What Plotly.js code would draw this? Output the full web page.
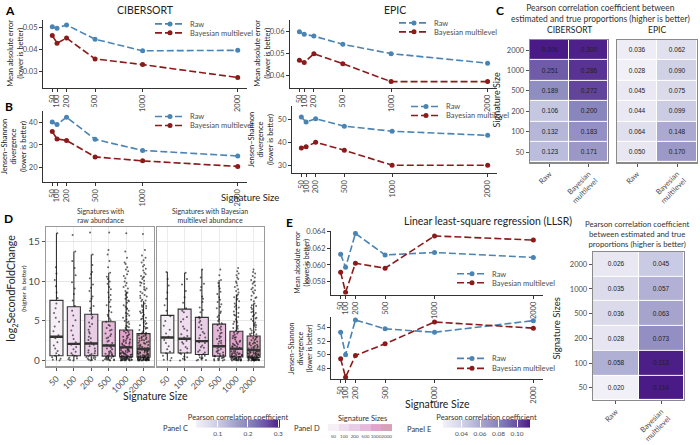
<!DOCTYPE html>
<html><head><meta charset="utf-8">
<script src="https://cdn.plot.ly/plotly-3.0.1.min.js"></script>
<style>html,body{margin:0;padding:0;background:#fff}#chart{width:700px;height:445px}</style>
</head><body><div id="chart"></div>
<script>
// ---------- data ----------
const sizes = [50,100,200,500,1000,2000];
const sizeLabels = ['50','100','200','500','1000','2000'];
const methods = ['Raw','Bayesian multilevel'];
const methodLabels = ['Raw','Bayesian<br>multilevel'];

// Panel A / B (CIBERSORT, EPIC)
const cibMaeRaw   = [0.0505,0.0498,0.0513,0.0448,0.0395,0.0397];
const cibMaeBayes = [0.0465,0.0430,0.0453,0.0358,0.0332,0.0273];
const epicMaeRaw  = [0.0597,0.0585,0.0577,0.0540,0.0498,0.0455];
const epicMaeBayes= [0.0468,0.0458,0.0498,0.0453,0.0372,0.0372];
const cibJsRaw    = [40.3,39.2,42.5,32.5,27.5,25.0];
const cibJsBayes  = [36.0,32.7,32.0,24.6,22.8,20.3];
const epicJsRaw   = [51.0,48.8,50.2,47.0,44.8,43.0];
const epicJsBayes = [37.5,38.0,40.0,36.5,30.0,30.0];

// Panel C (Pearson r, rows = signature sizes 50..2000)
const cibCorRaw    = [0.123,0.132,0.106,0.189,0.251,0.306];
const cibCorBayes  = [0.171,0.183,0.200,0.272,0.286,0.300];
const epicCorRaw   = [0.050,0.064,0.044,0.045,0.028,0.036];
const epicCorBayes = [0.170,0.148,0.099,0.075,0.090,0.062];

// Panel E (LLSR)
const llsrMaeRaw   = [0.0613,0.0597,0.0638,0.0612,0.0615,0.0609];
const llsrMaeBayes = [0.0591,0.0567,0.0602,0.0596,0.0635,0.0630];
const llsrJsRaw    = [53.3,50.0,55.1,53.8,53.3,55.0];
const llsrJsBayes  = [49.4,46.7,49.9,51.6,54.8,53.9];
const llsrCorRaw   = [0.020,0.058,0.028,0.036,0.035,0.026];
const llsrCorBayes = [0.114,0.113,0.073,0.063,0.057,0.045];

// Panel D box statistics
const rawLower = [0,0,0,0,0,0];
const rawQ1    = [0.6,0.6,0.6,0.55,0.45,0.4];
const rawMed   = [3.0,2.1,2.15,1.9,1.65,1.45];
const rawQ3    = [7.6,6.8,5.85,4.9,3.85,3.4];
const rawUpper = [16.1,13.8,13.4,11.1,8.7,7.5];
const bayLower = [0,0,0,0,0,0];
const bayQ1    = [0.95,0.95,0.75,0.55,0.45,0.4];
const bayMed   = [2.9,2.75,2.45,1.8,1.5,1.3];
const bayQ3    = [5.7,6.5,5.45,4.6,3.7,3.1];
const bayUpper = [11.2,11.1,11.5,10.2,8.35,7.2];

// Panel D individual gene points
const raw50   = [0,0.1,0.2,0.4,0.6,0.7,0.9,1.2,1.5,1.9,2.3,2.8,3.2,3.7,4.3,4.9,5.4,6.0,6.6,7.2,7.9,8.6,9.4,10.2,11.0,11.8,16.1];
const raw100  = [0,0.05,0.15,0.25,0.35,0.5,0.6,0.7,0.9,1.1,1.4,1.7,2.0,2.3,2.7,3.2,3.8,4.4,5.1,5.7,6.3,6.9,7.6,8.4,9.1,9.9,10.8,11.7,12.6,13.8,15.9];
const raw200  = [0,0.05,0.1,0.2,0.3,0.4,0.5,0.6,0.7,0.9,1.0,1.2,1.5,1.8,2.1,2.3,2.6,3.0,3.4,3.9,4.3,4.8,5.3,5.8,6.3,6.9,7.5,8.1,8.8,9.6,10.4,11.2,12.1,13.4,16.2,
                 0.15,0.45,0.8,1.3,2.0,2.8,3.6,4.6,5.5,6.6,7.8,9.2,10.9];
const raw500  = [0,0,0.05,0.1,0.15,0.2,0.3,0.35,0.4,0.5,0.6,0.7,0.8,0.9,1.0,1.2,1.4,1.6,1.8,2.0,2.2,2.5,2.8,3.1,3.4,3.8,4.1,4.5,4.9,5.3,5.8,6.3,6.8,7.4,8.0,8.6,9.3,10.0,10.6,11.1,11.8,12.6,13.4,14.0,16.2,
                 0.02,0.12,0.25,0.45,0.65,0.85,1.1,1.5,1.9,2.4,2.9,3.3,3.9,4.4,5.1,5.6,6.1,7.0,7.7,8.3,9.0,9.7,10.3];
const raw1000 = [0,0,0,0.05,0.05,0.1,0.1,0.15,0.2,0.25,0.3,0.35,0.4,0.45,0.5,0.6,0.7,0.8,0.9,1.0,1.1,1.2,1.35,1.5,1.65,1.8,2.0,2.2,2.4,2.6,2.9,3.2,3.5,3.8,4.1,4.4,4.8,5.2,5.6,6.0,6.5,7.0,7.5,8.0,8.6,9.1,9.5,10.0,10.4,10.9,11.3,11.8,12.4,13.0,13.8,16.1,
                 0.02,0.08,0.12,0.18,0.22,0.28,0.33,0.38,0.42,0.48,0.55,0.65,0.75,0.85,0.95,1.05,1.15,1.25,1.4,1.55,1.7,1.9,2.1,2.3,2.5,2.75,3.0,3.3,3.6,3.9,4.3,4.6,5.0,5.4,5.9,6.3,6.8,7.3,7.8,8.3,8.8,9.8,10.7,11.5,12.2,
                 0.03,0.07,0.16,0.26,0.36,0.52,0.72,0.92,1.3,1.75,2.15,2.65,3.1,3.7,4.2,4.9,5.7,6.6,7.6,8.5,9.3];
const raw2000 = [0,0,0,0,0.05,0.05,0.1,0.1,0.15,0.2,0.2,0.25,0.3,0.35,0.4,0.45,0.5,0.55,0.6,0.7,0.8,0.9,1.0,1.1,1.2,1.3,1.4,1.5,1.6,1.8,2.0,2.2,2.4,2.6,2.8,3.0,3.2,3.4,3.7,4.0,4.3,4.6,5.0,5.4,5.8,6.2,6.6,7.0,7.5,7.9,8.3,8.7,9.1,9.5,9.9,10.3,10.7,11.1,11.6,12.1,12.7,13.3,14.0,16.0,
                 0.02,0.03,0.07,0.08,0.12,0.13,0.17,0.22,0.27,0.32,0.37,0.42,0.47,0.52,0.58,0.65,0.75,0.85,0.95,1.05,1.15,1.25,1.35,1.45,1.55,1.7,1.9,2.1,2.3,2.5,2.7,2.9,3.1,3.3,3.55,3.85,4.15,4.45,4.8,5.2,5.6,6.0,6.4,6.8,7.2,7.7,8.1,8.5,8.9,9.3,9.7,10.1,10.5,10.9,11.4,11.9,12.4,13.0,
                 0.01,0.04,0.09,0.14,0.19,0.24,0.29,0.34,0.44,0.62,0.82,1.02,1.22,1.42,1.65,1.95,2.25,2.55,2.85,3.15,3.5,4.1,4.7,5.3,6.1,6.9,7.6,8.2,9.0,9.8,10.6];
const bay50   = [0,0.1,0.3,0.6,0.9,1.1,1.4,1.8,2.2,2.6,3.0,3.4,3.9,4.4,5.0,5.6,6.3,7.0,7.8,8.6,9.5,10.3,11.2];
const bay100  = [0,0.2,0.5,0.8,1.0,1.3,1.7,2.1,2.5,2.9,3.3,3.8,4.3,4.9,5.5,6.1,6.6,7.3,8.0,8.8,9.6,10.3,11.1,0.1,0.4,0.9,1.5,2.3,3.1,4.0,5.2,6.3];
const bay200  = [0,0.1,0.2,0.4,0.6,0.8,1.0,1.3,1.6,1.9,2.2,2.5,2.8,3.2,3.6,4.0,4.5,5.0,5.5,6.1,6.7,7.4,8.1,8.9,9.7,10.5,11.5,
                 0.05,0.3,0.7,1.1,1.7,2.3,2.9,3.4,4.2,4.8,5.3,6.4,7.8,9.3];
const bay500  = [0,0,0.1,0.2,0.3,0.4,0.5,0.6,0.7,0.9,1.1,1.3,1.5,1.7,1.9,2.2,2.5,2.8,3.1,3.5,3.9,4.3,4.7,5.2,5.7,6.2,6.8,7.4,8.0,8.7,9.4,10.2,10.8,11.5,
                 0.02,0.15,0.35,0.55,0.8,1.0,1.2,1.45,1.8,2.1,2.4,2.7,3.0,3.4,3.8,4.1,4.5,5.0,5.5,6.0,6.6,7.1,7.7,8.4,9.1,9.8];
const bay1000 = [0,0,0,0.05,0.1,0.15,0.2,0.25,0.3,0.4,0.5,0.6,0.7,0.8,0.9,1.0,1.2,1.4,1.6,1.8,2.0,2.2,2.5,2.8,3.1,3.4,3.8,4.2,4.6,5.0,5.5,6.0,6.5,7.0,7.5,8.0,8.35,8.8,9.3,9.8,10.3,10.8,11.3,11.7,
                 0.02,0.06,0.12,0.18,0.23,0.28,0.35,0.45,0.55,0.65,0.75,0.85,0.95,1.1,1.3,1.5,1.7,1.9,2.1,2.35,2.65,2.95,3.25,3.6,4.0,4.4,4.8,5.2,5.7,6.2,6.7,7.2,7.7,8.2,8.6,9.0,9.5,10.0,10.5,11.0,
                 0.03,0.08,0.14,0.32,0.48,0.68,0.88,1.15,1.45,1.75,2.05,2.4,2.9,3.5,4.1,4.9,5.8,6.8,7.8];
const bay2000 = [0,0,0,0,0.05,0.05,0.1,0.1,0.15,0.2,0.25,0.3,0.35,0.4,0.45,0.5,0.6,0.7,0.8,0.9,1.0,1.1,1.2,1.3,1.45,1.6,1.8,2.0,2.2,2.4,2.7,3.0,3.3,3.6,4.0,4.4,4.8,5.2,5.6,6.0,6.5,7.0,7.5,8.0,8.5,9.0,9.5,10.0,10.5,11.0,11.5,
                 0.01,0.03,0.07,0.08,0.12,0.13,0.17,0.22,0.27,0.32,0.37,0.42,0.47,0.55,0.65,0.75,0.85,0.95,1.05,1.15,1.25,1.4,1.55,1.7,1.9,2.1,2.3,2.55,2.85,3.15,3.45,3.8,4.2,4.6,5.0,5.4,5.8,6.2,6.7,7.2,7.7,8.2,8.7,9.2,9.7,10.2,10.7,11.2,
                 0.02,0.04,0.09,0.14,0.19,0.24,0.29,0.34,0.44,0.52,0.62,0.72,0.82,0.92,1.02,1.22,1.35,1.5,1.65,1.85,2.05,2.25,2.6,2.95,3.35,3.9,4.5,5.3,6.1,6.9,7.9,8.9,9.9];
const rawPoints = [raw50,raw100,raw200,raw500,raw1000,raw2000];
const bayPoints = [bay50,bay100,bay200,bay500,bay1000,bay2000];

// ---------- styling ----------
const W = 700, H = 445;
const FONT = 'Lato, "Open Sans", sans-serif';
const RAW_C = '#4a84b5', BAY_C = '#8b1a1a';
const TICK_C = '#4d4d4d';
const boxColors = ['#f6f0f6','#efdcee','#e9cce5','#e6b9da','#e2a2cb','#d6a2b8'];
const purples = [[0,'#f2f0f7'],[0.17,'#dadaeb'],[0.34,'#bcbddc'],[0.5,'#9e9ac8'],[0.67,'#807dba'],[0.84,'#6a51a3'],[1,'#4a1a86']];

const dx = (a,b) => [a/W, b/W];
const dy = (t,b) => [1-b/H, 1-t/H];
const px = v => v/W, py = v => 1-v/H;

const traces = [];
const layout = {
  width: W, height: H, margin:{l:0,r:0,t:0,b:0},
  paper_bgcolor:'#fff', plot_bgcolor:'rgba(0,0,0,0)',
  font:{family:FONT, color:'#222'}, annotations:[], showlegend:true
};

// ---------- line charts ----------
let legendCount = 0;
function legendId(){ legendCount++; return legendCount===1 ? 'legend' : 'legend'+legendCount; }
function addLegend(id, xText, yCenter){
  layout[id] = {x: px(xText-42), y: py(yCenter), xanchor:'left', yanchor:'middle',
    bgcolor:'rgba(0,0,0,0)', borderwidth:0, itemwidth:30,
    font:{size:7.5, color:TICK_C, family:FONT}};
}
function lineChart(n, xd, yd, yr, yticks, yfmt, rawY, bayY, legRawY, legBayY, legX){
  const xa = 'x'+(n===1?'':n), ya = 'y'+(n===1?'':n);
  const lr = legendId(), lb = legendId();
  addLegend(lr, legX, legRawY); addLegend(lb, legX, legBayY);
  [[rawY, RAW_C, 'Raw', lr],[bayY, BAY_C, 'Bayesian multilevel', lb]].forEach(([yv,c,name,lg])=>{
    traces.push({type:'scatter', mode:'lines+markers', x:sizes, y:yv, name:name, legend:lg,
      xaxis:xa, yaxis:ya, line:{color:c, width:1.6, dash:'7px,3px'}, marker:{color:c, size:5},
      hoverinfo:'skip', showlegend:true});
  });
  layout['xaxis'+(n===1?'':n)] = {domain:xd, anchor:ya, range:[-47.5,2097.5], tickvals:sizes, ticktext:sizeLabels,
    tickangle:-90, ticks:'outside', ticklen:3, tickcolor:'#333', showline:true, linecolor:'#333', linewidth:1,
    showgrid:false, zeroline:false, tickfont:{size:7.5, color:TICK_C}};
  layout['yaxis'+(n===1?'':n)] = {domain:yd, anchor:xa, range:yr, tickvals:yticks, tickformat:yfmt,
    ticks:'outside', ticklen:3, tickcolor:'#333', showline:true, linecolor:'#333', linewidth:1,
    showgrid:false, zeroline:false, tickfont:{size:7.5, color:TICK_C}};
}
lineChart(1, dx(43,247), dy(20,88), [0.0227,0.0536], [0.03,0.04,0.05], '.2f', cibMaeRaw, cibMaeBayes, 24, 33, 192);
lineChart(2, dx(290,497), dy(20,88), [0.0345,0.065], [0.04,0.05,0.06], '.2f', epicMaeRaw, epicMaeBayes, 23, 32, 436);
lineChart(3, dx(43,247), dy(111,183), [13.2,45.5], [20,30,40], 'd', cibJsRaw, cibJsBayes, 117, 126, 192);
lineChart(4, dx(292,497), dy(106,174), [26.5,56], [30,40,50], 'd', epicJsRaw, epicJsBayes, 107, 116, 448);
lineChart(9, dx(331,543), dy(232,296), [0.0564,0.0641], [0.058,0.060,0.062,0.064], '.3f', llsrMaeRaw, llsrMaeBayes, 275, 284, 494);
lineChart(10, dx(331,543), dy(318,381), [46.4,55.6], [48,50,52,54], 'd', llsrJsRaw, llsrJsBayes, 360, 370, 494);

// ---------- heatmaps ----------
function heat(n, xd, yd, rawV, bayV, cax, showY){
  const xa = 'x'+n, ya = 'y'+n;
  traces.push({type:'heatmap', x:methods, y:sizeLabels, z:sizeLabels.map((_,i)=>[rawV[i], bayV[i]]),
    coloraxis:cax, xgap:1, ygap:1, xaxis:xa, yaxis:ya, hoverinfo:'skip',
    texttemplate:'%{z:.3f}', textfont:{size:6.5, color:'#222', family:'"Liberation Sans", Arial, sans-serif'}});
  layout['xaxis'+n] = {domain:xd, anchor:ya, type:'category', tickvals:methods, ticktext:methodLabels,
    tickangle:-45, ticks:'outside', ticklen:3, tickcolor:'#555', showline:true, mirror:true,
    linecolor:'#8a8a8a', linewidth:1.3, tickfont:{size:7.5, color:TICK_C}, showgrid:false, zeroline:false};
  layout['yaxis'+n] = {domain:yd, anchor:xa, type:'category', categoryarray:sizeLabels,
    ticks: showY?'outside':'', ticklen:3, tickcolor:'#555', showticklabels:showY, showline:true, mirror:true,
    linecolor:'#8a8a8a', linewidth:1.3, tickfont:{size:7.5, color:TICK_C}, showgrid:false, zeroline:false};
}
heat(5, dx(530,608), dy(40,163), cibCorRaw, cibCorBayes, 'coloraxis', true);
heat(6, dx(617,697), dy(40,163), epicCorRaw, epicCorBayes, 'coloraxis', false);
heat(11, dx(593,684), dy(253,402), llsrCorRaw, llsrCorBayes, 'coloraxis2', true);

const cbCommon = {orientation:'h', lenmode:'pixels', thickness:8, xanchor:'left', yanchor:'middle',
  y: py(430), xpad:0, ypad:0, outlinewidth:0, ticks:'inside', tickcolor:'#fff', ticklen:8,
  tickfont:{size:6.5, color:TICK_C}};
layout.coloraxis = {cmin:0.028, cmax:0.306, colorscale:purples,
  colorbar:Object.assign({}, cbCommon, {x:px(196), len:84, tickvals:[0.1,0.2,0.3],
    title:{text:'Pearson correlation coefficient', side:'top', font:{size:7.5, color:'#333'}}})};
layout.coloraxis2 = {cmin:0.020, cmax:0.114, colorscale:purples,
  colorbar:Object.assign({}, cbCommon, {x:px(443), len:87, tickvals:[0.04,0.06,0.08,0.10], tickformat:'.2f',
    title:{text:'Pearson correlation coefficient', side:'top', font:{size:7.5, color:'#333'}}})};

// ---------- panel D boxes ----------
function facet(n, xd, q1, med, q3, lo, up, pts, showY){
  const xa = 'x'+n, ya = 'y'+n;
  sizeLabels.forEach((s,i)=>{
    traces.push({type:'box', x:[s], q1:[q1[i]], median:[med[i]], q3:[q3[i]], lowerfence:[lo[i]], upperfence:[up[i]],
      fillcolor:boxColors[i], line:{color:'#333', width:1.1}, width:0.75, whiskerwidth:0, boxpoints:false,
      xaxis:xa, yaxis:ya, showlegend:false, hoverinfo:'skip'});
  });
  const xs = [], ys = [];
  pts.forEach((arr,i)=>arr.forEach(v=>{ xs.push(sizeLabels[i]); ys.push(v); }));
  traces.push({type:'box', x:xs, y:ys, boxpoints:'all', jitter:0.9, pointpos:0, width:0.75, whiskerwidth:0,
    fillcolor:'rgba(0,0,0,0)', line:{width:0, color:'rgba(0,0,0,0)'},
    marker:{size:2, color:'rgba(20,20,20,0.65)'}, xaxis:xa, yaxis:ya, showlegend:false, hoverinfo:'skip'});
  traces.push({type:'box', x:sizeLabels, q1:med, median:med, q3:med, lowerfence:med, upperfence:med,
    fillcolor:'rgba(0,0,0,0)', line:{color:'#333', width:2.4}, width:0.75, whiskerwidth:0, boxpoints:false,
    xaxis:xa, yaxis:ya, showlegend:false, hoverinfo:'skip'});
  layout['xaxis'+n] = {domain:xd, anchor:ya, type:'category', categoryarray:sizeLabels, range:[-0.6,5.6],
    tickangle:-45, ticks:'outside', ticklen:3, tickcolor:'#555', showline:true, mirror:true,
    linecolor:'#9a9a9a', linewidth:1.2, showgrid:true, gridcolor:'#ececec', gridwidth:1, zeroline:false,
    tickfont:{size:8.5, color:TICK_C}};
  layout['yaxis'+n] = {domain:dy(228,368), anchor:xa, range:[-0.75,16.9], tickvals:[0,5,10,15],
    ticks: showY?'outside':'', ticklen:3, tickcolor:'#555', showticklabels:showY, showline:true, mirror:true,
    linecolor:'#9a9a9a', linewidth:1.2, showgrid:true, gridcolor:'#e6e6e6', zeroline:false,
    minor:{dtick:2.5, tick0:0, showgrid:true, gridcolor:'#f4f4f4', ticks:''},
    tickfont:{size:10, color:TICK_C}};
}
facet(7, dx(46,154), rawQ1, rawMed, rawQ3, rawLower, rawUpper, rawPoints, true);
facet(8, dx(157,264), bayQ1, bayMed, bayQ3, bayLower, bayUpper, bayPoints, false);

// Panel D legend strip (signature size colours)
traces.push({type:'heatmap', x:sizeLabels, y:['k'], z:[sizeLabels.map((_,i)=>i)], zmin:0, zmax:5,
  colorscale:boxColors.map((c,i)=>[i/5,c]), showscale:false, xaxis:'x12', yaxis:'y12', hoverinfo:'skip'});
layout.xaxis12 = {domain:dx(328,392), anchor:'y12', type:'category', showline:false, ticks:'', showgrid:false,
  zeroline:false, tickangle:0, ticklabelstandoff:1, tickfont:{size:4.6, color:TICK_C}};
layout.yaxis12 = {domain:dy(426,433), anchor:'x12', showticklabels:false, ticks:'', showgrid:false, zeroline:false, showline:false};

// ---------- text ----------
function ann(text, x, y, o){
  layout.annotations.push(Object.assign({text:text, x:px(x), y:py(y), xref:'paper', yref:'paper',
    showarrow:false, xanchor:'center', yanchor:'middle', font:{size:8, color:'#222'}}, o||{}));
}
ann('<b>A</b>', 3, 11, {xanchor:'left', font:{size:12, color:'#000'}});
ann('<b>B</b>', 3, 107, {xanchor:'left', font:{size:12, color:'#000'}});
ann('<b>C</b>', 494, 11, {xanchor:'left', font:{size:12, color:'#000'}});
ann('<b>D</b>', 2, 219, {xanchor:'left', font:{size:12, color:'#000'}});
ann('<b>E</b>', 284, 224, {xanchor:'left', font:{size:12, color:'#000'}});

ann('CIBERSORT', 145, 10, {font:{size:10.5, color:'#222'}});
ann('EPIC', 395, 10, {font:{size:10.5, color:'#222'}});
ann('Signature Size', 250, 198, {font:{size:9.5, color:'#222'}});
ann('Mean absolute error<br>(lower is better)', 16, 54, {textangle:-90, font:{size:7.5, color:'#222'}});
ann('Mean absolute error<br>(lower is better)', 263, 54, {textangle:-90, font:{size:7.5, color:'#222'}});
ann('Jensen\u2212Shannon<br>divergence<br>(lower is better)', 14, 147, {textangle:-90, font:{size:7.5, color:'#222'}});
ann('Jensen\u2212Shannon<br>divergence<br>(lower is better)', 261, 140, {textangle:-90, font:{size:7.5, color:'#222'}});

ann('Pearson correlation coefficient between<br>estimated and true proportions (higher is better)', 600, 14, {font:{size:8.5, color:'#333'}});
ann('CIBERSORT', 569, 30, {font:{size:8.5, color:'#222'}});
ann('EPIC', 657, 30, {font:{size:8.5, color:'#222'}});
ann('Signature Size', 497, 101, {textangle:-90, font:{size:9, color:'#222'}});

ann('Signatures with<br>raw abundance', 100, 216, {font:{size:7, color:'#333'}});
ann('Signatures with Bayesian<br>multilevel abundance', 210, 216, {font:{size:7, color:'#333'}});
ann('log<sub>2</sub>SecondFoldChange', 12, 290, {textangle:-90, font:{size:10.5, color:'#222'}});
ann('(higher is better)', 24, 290, {textangle:-90, font:{size:6.5, color:'#222'}});
ann('Signature Size', 155, 398, {font:{size:10.5, color:'#222'}});

ann('Linear least-square regression (LLSR)', 488, 222, {font:{size:10.5, color:'#222'}});
ann('Mean absolute error<br>(lower is better)', 302, 264, {textangle:-90, font:{size:7, color:'#222'}});
ann('Jensen\u2212Shannon<br>divergence<br>(lower is better)', 300, 350, {textangle:-90, font:{size:7, color:'#222'}});
ann('Signature Size', 437, 406, {font:{size:10.5, color:'#222'}});
ann('Pearson correlation coefficient<br>between estimated and true<br>proportions (higher is better)', 637, 235, {font:{size:7.8, color:'#333'}});
ann('Signature Sizes', 557, 330, {textangle:-90, font:{size:9.5, color:'#222'}});

ann('Panel C', 190, 430, {xanchor:'right', font:{size:7.5, color:'#333'}});
ann('Signature Sizes', 362, 420, {font:{size:7.5, color:'#333'}});
ann('Panel D', 322, 430, {xanchor:'right', font:{size:7.5, color:'#333'}});
ann('Panel E', 433, 431, {xanchor:'right', font:{size:7.5, color:'#333'}});

Plotly.newPlot('chart', traces, layout, {staticPlot:true, displayModeBar:false});
</script></body></html>
